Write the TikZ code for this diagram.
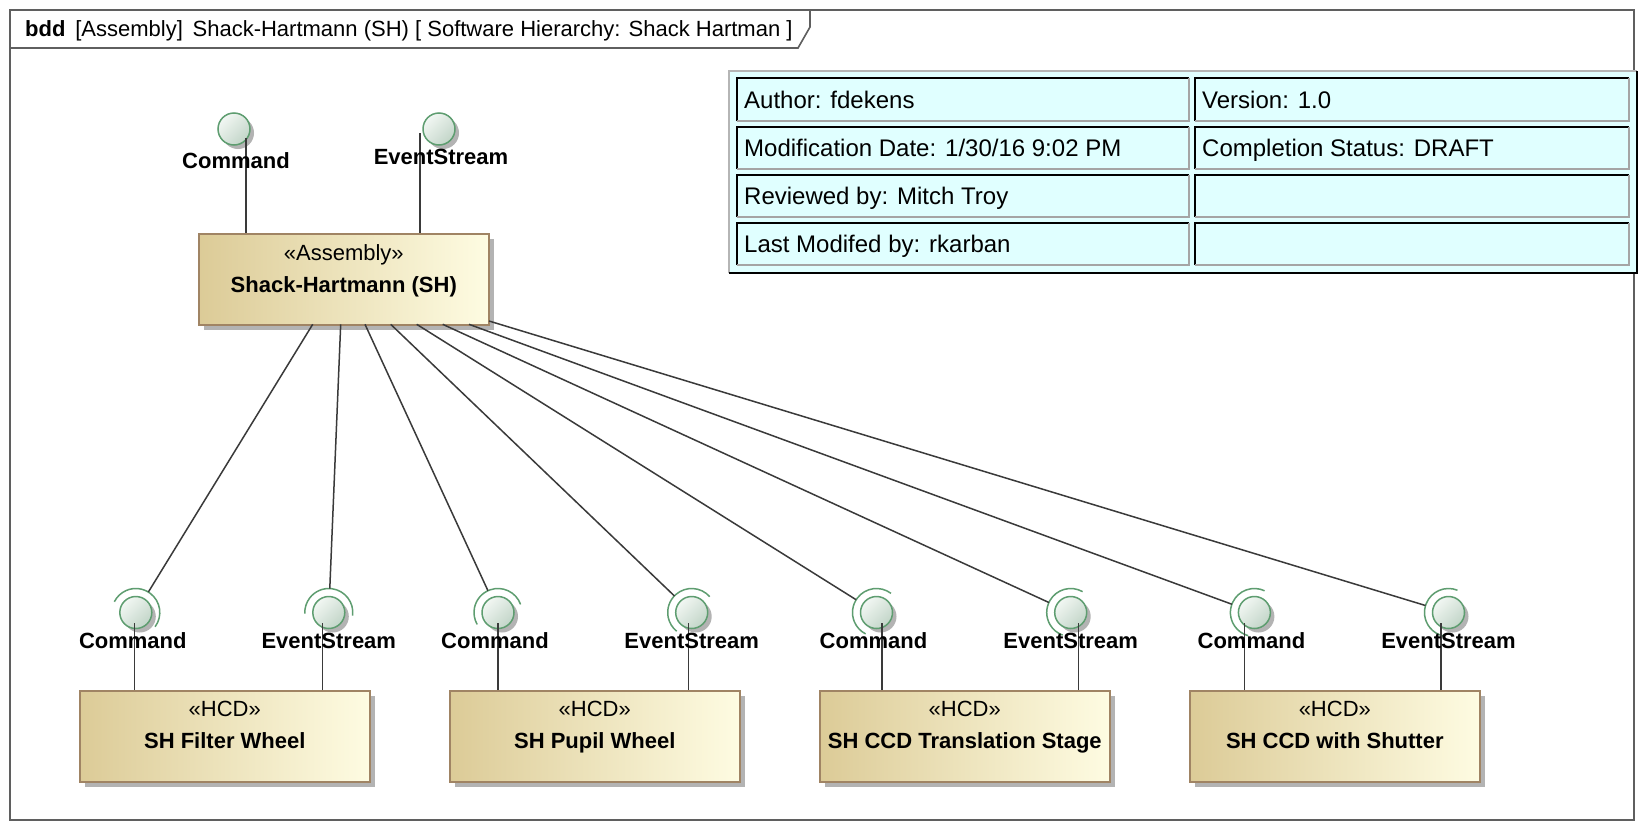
\documentclass[tikz,border=0pt]{standalone}
\usepackage{fontspec}
\setmainfont{Liberation Sans}
\usetikzlibrary{calc,shadows}
\definecolor{frameC}{HTML}{5F5F5F}
\definecolor{boxL}{HTML}{DCCB97}
\definecolor{boxR}{HTML}{FEFCE2}
\definecolor{boxB}{HTML}{A08464}
\definecolor{shadowC}{HTML}{B3B3B3}
\definecolor{ballA}{HTML}{F2F7F3}
\definecolor{ballB}{HTML}{C2D5C8}
\definecolor{ballE}{HTML}{5E9D70}
\definecolor{tableF}{HTML}{E0FFFF}
\definecolor{tabG}{HTML}{B5B5B5}
\definecolor{cellG}{HTML}{A5A5A5}
\definecolor{lineC}{HTML}{3A3A3A}
\begin{document}
\begin{tikzpicture}[x=1pt,y=1pt,
  frameline/.style={draw=frameC,line width=1.6pt},
  block/.style={draw=boxB,line width=1.6pt,left color=boxL,right color=boxR,
    minimum width=290pt,minimum height=91pt,inner sep=0pt,anchor=north west,
    drop shadow={shadow xshift=5pt,shadow yshift=-5pt,fill=shadowC,opacity=1}},
  ball/.style={circle,draw=ballE,line width=1.5pt,minimum size=32pt,inner sep=0pt,
    top color=ballA,bottom color=ballB,shading angle=45,
    drop shadow={shadow xshift=4pt,shadow yshift=-4pt,fill=shadowC,opacity=1}},
  socket/.style={draw=ballE,line width=1.5pt},
  conn/.style={draw=lineC,line width=1.5pt},
  plabel/.style={font=\fontsize{22}{26}\selectfont\bfseries,anchor=base,inner sep=0pt},
  stereo/.style={font=\fontsize{22}{26}\selectfont,anchor=base,inner sep=0pt},
  bname/.style={font=\fontsize{22}{26}\selectfont\bfseries,anchor=base,inner sep=0pt},
  ttext/.style={font=\fontsize{24}{28}\selectfont,anchor=base west,inner sep=0pt},
  titletext/.style={font=\fontsize{22}{27}\selectfont,anchor=base west,inner sep=0pt}
]
\fill[white] (0,0) rectangle (1648,-830);
\useasboundingbox (0,0) rectangle (1648,-830);

% frame and tab
\draw[frameline] (10,-10) rectangle (1634,-820);
\draw[frameline] (10,-48) -- (798,-48) -- (810,-27) -- (810,-10);
\node[titletext] (title) at (25,-36.5) {\textbf{bdd}\, [Assembly]\, Shack-Hartmann (SH) [ Software Hierarchy: Shack Hartman ]};

% info table
\fill[tableF] (729,-71) rectangle (1637,-273);
\draw[tabG,line width=1.5pt] (729,-273) -- (729,-71) -- (1637,-71);
\draw[black,line width=2.5pt] (729,-273) -- (1637,-273) -- (1637,-71);
\foreach \xa/\xb in {737/1189,1195/1629}{
  \foreach \ya/\yb in {78/121,127/169,175/217,223/265}{
    \draw[black,line width=2pt] (\xa,-\yb) -- (\xa,-\ya) -- (\xb,-\ya);
    \draw[cellG,line width=2pt] (\xb,-\ya) -- (\xb,-\yb) -- (\xa,-\yb);
  }
}
\node[ttext] (au) at (744,-108) {Author: fdekens};
\node[ttext] (ve) at (1202,-108) {Version: 1.0};
\node[ttext] (md) at (744,-156.6) {Modification Date: 1/30/16 9:02 PM};
\node[ttext] (cs) at (1202,-156.6) {Completion Status: DRAFT};
\node[ttext] (rb) at (744,-204.6) {Reviewed by: Mitch Troy};
\node[ttext] (lm) at (744,-252.6) {Last Modifed by: rkarban};

% blocks
\node[block] (sh) at (198,-233) {};
\node[stereo] (shs) at ($(sh.north)+(0,-27)$) {«Assembly»};
\node[bname] (shn) at ($(sh.north)+(0,-59)$) {Shack-Hartmann (SH)};
\foreach \i/\x/\t in {1/79/SH Filter Wheel,2/449/SH Pupil Wheel,3/819/SH CCD Translation Stage,4/1189/SH CCD with Shutter}{
  \node[block] (hcd\i) at (\x,-690) {};
  \node[stereo] (hcds\i) at ($(hcd\i.north)+(0,-26.5)$) {«HCD»};
  \node[bname] (hcdn\i) at ($(hcd\i.north)+(0,-58)$) {\t};
}

% top ports
\node[ball] (tc) at (234,-129) {};
\node[ball] (te) at (439,-129) {};
\coordinate (tcp) at ($(sh.north west)+(48,0)$);
\coordinate (tep) at ($(sh.north west)+(222,0)$);
\draw[conn] (tcp |- 0,-138) -- (tcp);
\draw[conn] (tep |- 0,-133) -- (tep);
\node[plabel] (tcl) at (236,-168) {Command};
\node[plabel] (tel) at (441,-164) {EventStream};

% start points of connectors on the assembly block
\coordinate (s1) at (312.7,-324.3);
\coordinate (s2) at (340.7,-324.3);
\coordinate (s3) at (365,-324.3);
\coordinate (s4) at (390.7,-324.3);
\coordinate (s5) at (416.7,-324.3);
\coordinate (s6) at (442.7,-324.3);
\coordinate (s7) at (469,-324.3);
\coordinate (s8) at (489,-321);

% bottom ports
\foreach \bn/\bx/\lx/\st/\txt/\dx/\hh in {
  b1c/135.8/134.5/s1/Command/-3/hcd1,
  b1e/328.8/322.7/s2/EventStream/0/hcd1,
  b2c/498/498/s3/Command/-3/hcd2,
  b2e/691.7/688.6/s4/EventStream/0/hcd2,
  b3c/876.5/881.9/s5/Command/-3/hcd3,
  b3e/1070.7/1078.3/s6/EventStream/0/hcd3,
  b4c/1254.4/1244.4/s7/Command/-3/hcd4,
  b4e/1448.5/1440.8/s8/EventStream/0/hcd4}{
  \node[ball] (\bn) at (\bx,-612.5) {};
  \draw[socket] let \p1=($(\st)-(\bn.center)$), \n1={atan2(\y1,\x1)} in
    ($(\bn.center)+(\n1-95:24pt)$) arc[start angle=\n1-95, end angle=\n1+95, radius=24pt];
  \draw[conn] (\st) -- ($(\bn.center)!24pt!(\st)$);
  \coordinate (\bn p) at (\lx,-623);
  \draw[conn] (\bn p) -- (\bn p |- \hh.north);
  \node[plabel] (\bn l) at (\bx+\dx,-648) {\txt};
}
\end{tikzpicture}
\end{document}
